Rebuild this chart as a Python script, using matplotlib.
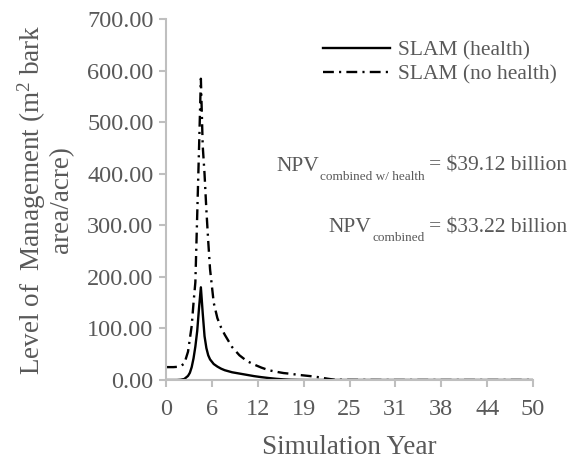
import matplotlib
matplotlib.use('Agg')
import matplotlib.pyplot as plt
import numpy as np

plt.rcParams['font.family'] = ['Liberation Serif', 'DejaVu Serif']
plt.rcParams['mathtext.fontset'] = 'custom'
plt.rcParams['mathtext.rm'] = 'Liberation Serif'
plt.rcParams['mathtext.it'] = 'Liberation Serif:italic'
plt.rcParams['mathtext.bf'] = 'Liberation Serif:bold'

TEXT = '#595959'
AXIS = '#bfbfbf'

# simulation years
years = [0, 1, 1.5, 2, 2.5, 3, 3.25, 3.5, 3.75, 4, 4.25, 4.5, 4.75, 5, 5.25,
         5.5, 5.75, 6, 6.5, 7, 7.5, 8, 9, 10, 11, 12, 13, 14, 15, 16, 17, 18,
         19, 20, 21, 22, 23, 25, 30, 35, 40, 45, 50]

slam_health = [0, 0, 0, 0.5, 2, 8, 14, 25, 42, 65, 95, 140, 180, 130, 85,
               62, 48, 40, 31, 26, 22, 19, 15, 12.5, 10, 7.5, 5.5, 3.8, 2.3, 1.2,
               0.5, 0.2, 0, 0, 0, 0, 0, 0, 0, 0, 0, 0, 0]

slam_no_health = [25, 25, 25.5, 27, 32, 55, 80, 105, 150, 190, 320, 450, 585, 455, 400,
                  330, 270, 215, 150, 120, 102, 88, 64, 48, 37, 30, 24, 19, 16, 13.5,
                  12, 10, 8.5, 7, 5, 2.5, 0.5, 0.2, 0, 0, 0, 0, 0]

x_tick_labels = ['0', '6', '12', '19', '25', '31', '38', '44', '50']

npv_rows = [('combined w/ health', 39.12), ('combined', 33.22)]

fig = plt.figure(figsize=(5.79, 4.62), dpi=100)
ax = fig.add_axes([0.2867, 0.1775, 0.634, 0.7803])

ax.plot(years, slam_health, color='black', lw=1.7, label='SLAM (health)')
ax.plot(years, slam_no_health, color='black', lw=1.7, dashes=(4.6, 2.2, 0.9, 2.2),
        label='SLAM (no health)')

ax.set_xlim(0, 50)
ax.set_ylim(0, 700)
ax.set_xticks(np.linspace(0, 50, len(x_tick_labels)))
ax.set_xticklabels(x_tick_labels)
ax.set_yticks(np.arange(0, 701, 100))
ax.set_yticklabels([f'{v:.2f}' for v in np.arange(0, 701, 100)])

for s in ['top', 'right']:
    ax.spines[s].set_visible(False)
for s in ['left', 'bottom']:
    ax.spines[s].set_color(AXIS)
    ax.spines[s].set_linewidth(1.5)
ax.tick_params(colors=AXIS, labelcolor=TEXT, labelsize=17.5, length=5, width=1.5)
ax.tick_params(axis='x', pad=9)
ax.tick_params(axis='y', pad=4)

ax.set_xlabel('Simulation Year', fontsize=19.5, color=TEXT)
ax.xaxis.set_label_coords(0.5, -0.153)
ax.set_ylabel('Level of  Management (m$^2$ bark\narea/acre)', fontsize=19.5,
              color=TEXT, linespacing=1.05)
ax.yaxis.set_label_coords(-0.25, 0.5)

leg = ax.legend(loc='upper right', bbox_to_anchor=(557 / 579, 1 - 40 / 462),
                bbox_transform=fig.transFigure, frameon=False, fontsize=15.5,
                handlelength=3.1, handletextpad=0.4, labelspacing=0.2,
                borderaxespad=0, borderpad=0)
for t in leg.get_texts():
    t.set_color(TEXT)

# NPV annotations: main text, smaller subscript, then the value
renderer = fig.canvas.get_renderer()
x_right = 567
fig_h = fig.get_figheight() * fig.dpi
for (sub, val), y_base in zip(npv_rows, [171, 232]):
    yb = fig_h - y_base
    t3 = fig.text(x_right, yb, '= $%.2f billion' % val, ha='right', va='baseline',
                  fontsize=15.5, color=TEXT, transform=None)
    x3 = t3.get_window_extent(renderer).x0
    t2 = fig.text(x3 - 4, yb - 9, sub, ha='right', va='baseline',
                  fontsize=9.5, color=TEXT, transform=None)
    x2 = t2.get_window_extent(renderer).x0
    fig.text(x2 - 1, yb, 'NPV', ha='right', va='baseline', fontsize=15.5,
             color=TEXT, transform=None)

fig.savefig('out.png', dpi=100)
